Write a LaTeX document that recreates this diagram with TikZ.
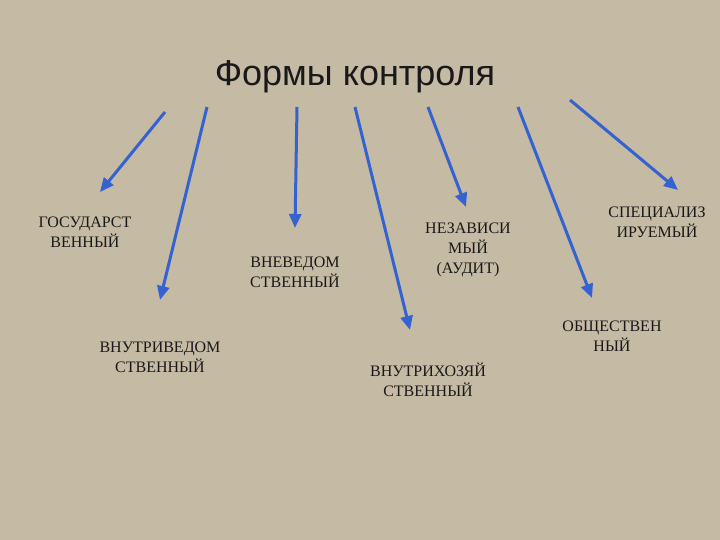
\documentclass[tikz,border=0pt]{standalone}
\usepackage{fontspec}
\setmainfont{Liberation Serif}
\newfontfamily\titlefont{Liberation Sans}
\usetikzlibrary{arrows.meta}
\definecolor{bg}{RGB}{197,186,164}
\definecolor{arr}{RGB}{52,98,208}
\definecolor{txt}{RGB}{25,25,25}
\tikzset{
 lbl/.style={align=center,text=txt,font=\fontsize{16}{20}\selectfont,inner sep=0pt},
 arrowln/.style={draw=arr,line width=3pt,-{Triangle[length=14pt,width=12pt]}}
}
\begin{document}
\begin{tikzpicture}[x=1pt,y=-1pt]
\fill[bg] (0,0) rectangle (720,540);
\useasboundingbox (0,0) rectangle (720,540);
\node[inner sep=0pt,text=txt,font=\titlefont\fontsize{36}{40}\selectfont] (t) at (355,77) {Формы контроля};
\foreach \n/\sx/\sy/\ex/\ey in {1/165/112/100/192, 2/207/107/160/300, 3/297/107/295/228, 4/355/107/410/330, 5/428/107/466/207, 6/518/107/592/298, 7/570/100/678/190}{
 \coordinate (s\n) at (\sx,\sy);
 \coordinate (e\n) at (\ex,\ey);
 \draw[arrowln] (s\n) -- (e\n);
}
\node[lbl] (a) at (85,232) {ГОСУДАРСТ\\ВЕННЫЙ};
\node[lbl] (b) at (160,357) {ВНУТРИВЕДОМ\\СТВЕННЫЙ};
\node[lbl] (c) at (295,272) {ВНЕВЕДОМ\\СТВЕННЫЙ};
\node[lbl] (d) at (468,250) {НЕЗАВИСИ\\МЫЙ\\(АУДИТ)};
\node[lbl] (e) at (428,380) {ВНУТРИХОЗЯЙ\\СТВЕННЫЙ};
\node[lbl] (f) at (657,222) {СПЕЦИАЛИЗ\\ИРУЕМЫЙ};
\node[lbl] (g) at (612,336) {ОБЩЕСТВЕН\\НЫЙ};
\end{tikzpicture}
\end{document}
